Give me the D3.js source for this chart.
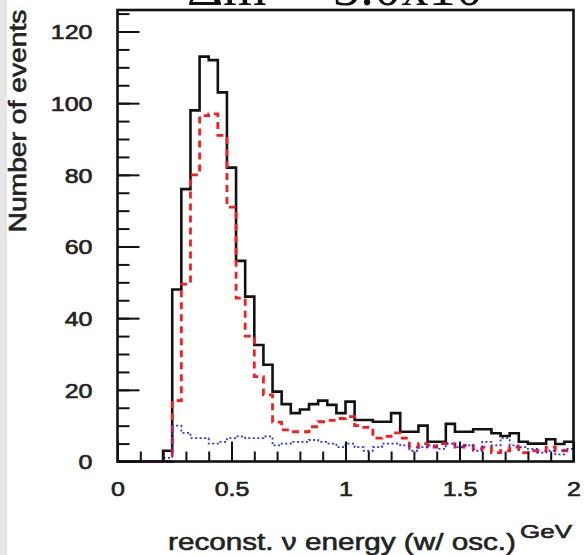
<!DOCTYPE html>
<html>
<head>
<meta charset="utf-8">
<script src="https://cdn.jsdelivr.net/npm/d3@7"></script>
<style>
  body { margin: 0; background: #fff; }
  svg { display: block; }
  text { font-family: "Liberation Sans", Arial, sans-serif; fill: #222; stroke: #222; stroke-width: 0.6px; }
</style>
</head>
<body>
<div id="chart"></div>
<script>
// histogram bins: 50 bins of 0.04 GeV between 0 and 2
var binWidth = 0.04;
var xTickLabels = ['0', '0.5', '1', '1.5', '2'];
var yTickLabels = ['0', '20', '40', '60', '80', '100', '120'];

// total (black, solid)
var totalCounts = [0, 0, 0, 0, 0, 3, 48, 76, 98, 113,
                   112, 103, 82, 56, 46, 32.5, 27, 19.5, 16, 13.5,
                   14.5, 16, 17, 15.8, 13.5, 16.7, 11.6, 11.6, 11.1, 11.1,
                   13.5, 8.3, 8.3, 10, 5.5, 5.5, 10.5, 8.3, 8.3, 9,
                   9, 7.9, 7.1, 7.9, 5.5, 5, 5, 6.2, 4.9, 5.5];
// signal (red, dashed)
var signalCounts = [0, 0, 0, 0, 0, 0, 17, 49.5, 80, 96.5,
                    97, 91, 71, 45.6, 35, 23.7, 18.6, 11, 8.8, 8.3,
                    8.3, 9.7, 11.1, 11.5, 12, 12.5, 10, 9.5, 6.5, 7,
                    8, 6.5, 4, 5, 4, 5, 5, 4, 4.5, 3.5,
                    4, 2.5, 3, 4, 2.5, 3, 3, 4, 3, 3];
// background (blue, dotted)
var backgroundCounts = [0, 0, 0, 0, 0, 1, 10, 8, 6.5, 6.5,
                        5, 5.5, 6.5, 7, 6.5, 6.5, 7, 4.5, 5, 5.5,
                        5.5, 6, 5.5, 5, 4, 5, 4, 3, 4, 5,
                        5, 4.5, 3, 4, 4.5, 3.5, 5, 4, 4.5, 3,
                        5.5, 4.5, 6.5, 4.5, 4, 3.5, 2.5, 3, 2, 3.5];

var width = 584, height = 555;
var frameLeft = 117.5, frameRight = 573.5, frameTop = 10, frameBottom = 461.5;

var svg = d3.select('#chart').append('svg')
    .attr('width', width)
    .attr('height', height);

// grey strip on the left edge of the scan
svg.append('rect').attr('x', 0).attr('y', 0).attr('width', 7).attr('height', height)
    .attr('fill', '#e6e6e6');

var x = d3.scaleLinear().domain([0, 2]).range([frameLeft, frameRight]);
var y = d3.scaleLinear().domain([0, 126]).range([frameBottom, frameTop]);

// title, mostly cut off at the top
svg.append('text').attr('x', 187).attr('y', 5)
    .style('font-family', '"Liberation Serif", serif').style('font-size', '56px')
    .style('fill', '#111').style('stroke', 'none')
    .text('\u0394m\u00b2 =');
svg.append('text').attr('x', 333).attr('y', 5)
    .attr('textLength', 185).attr('lengthAdjust', 'spacingAndGlyphs')
    .style('font-family', '"Liberation Serif", serif').style('font-size', '56px')
    .style('fill', '#111').style('stroke', 'none')
    .text('3.0x10\u207b\u00b3');

function stepPoints(counts) {
    var pts = counts.map(function (c, i) { return [i * binWidth, c]; });
    pts.push([counts.length * binWidth, counts[counts.length - 1]]);
    return pts;
}

var line = d3.line()
    .x(function (d) { return x(d[0]); })
    .y(function (d) { return y(d[1]); })
    .curve(d3.curveStepAfter);

var plot = svg.append('g');

plot.append('path').datum(stepPoints(totalCounts))
    .attr('d', line).attr('fill', 'none')
    .attr('stroke', '#111').attr('stroke-width', 2.6);

plot.append('path').datum(stepPoints(signalCounts))
    .attr('d', line).attr('fill', 'none')
    .attr('stroke', '#ff1a1a').attr('stroke-width', 2.8)
    .attr('stroke-dasharray', '7,5');

plot.append('path').datum(stepPoints(backgroundCounts))
    .attr('d', line).attr('fill', 'none')
    .attr('stroke', '#2b2bff').attr('stroke-width', 1.8)
    .attr('stroke-dasharray', '2,2.5');

// axes
var xMinor = d3.range(0, 2.0001, 0.1);
var yMinor = d3.range(0, 126, 5);

svg.append('g').attr('transform', 'translate(0,' + frameBottom + ')')
    .call(d3.axisBottom(x).tickValues(xMinor).tickSize(-10).tickFormat(''))
    .call(function (g) { g.select('.domain').remove(); g.selectAll('line').attr('stroke', '#111').attr('stroke-width', 2); });

svg.append('g').attr('transform', 'translate(0,' + frameBottom + ')')
    .call(d3.axisBottom(x).tickValues(xTickLabels.map(Number)).tickSize(-20).tickPadding(0)
        .tickFormat(function (d, i) { return xTickLabels[i]; }))
    .call(function (g) {
        g.select('.domain').remove();
        g.selectAll('line').attr('stroke', '#111').attr('stroke-width', 2);
        g.selectAll('text').attr('y', 0).attr('dy', null)
            .attr('transform', 'translate(0,34) scale(1.25,1)')
            .style('font-size', '20px').style('fill', '#222');
    });

svg.append('g').attr('transform', 'translate(' + frameLeft + ',0)')
    .call(d3.axisLeft(y).tickValues(yMinor).tickSize(-12).tickFormat(''))
    .call(function (g) { g.select('.domain').remove(); g.selectAll('line').attr('stroke', '#111').attr('stroke-width', 2); });

svg.append('g').attr('transform', 'translate(' + frameLeft + ',0)')
    .call(d3.axisLeft(y).tickValues(yTickLabels.map(Number)).tickSize(-22).tickPadding(0)
        .tickFormat(function (d, i) { return yTickLabels[i]; }))
    .call(function (g) {
        g.select('.domain').remove();
        g.selectAll('line').attr('stroke', '#111').attr('stroke-width', 2);
        g.selectAll('text').attr('x', 0).attr('dy', '0.36em')
            .attr('transform', 'translate(-25,0) scale(1.25,1)')
            .style('font-size', '20px').style('fill', '#222');
    });

// frame
svg.append('rect')
    .attr('x', frameLeft).attr('y', frameTop)
    .attr('width', frameRight - frameLeft).attr('height', frameBottom - frameTop)
    .attr('fill', 'none').attr('stroke', '#111').attr('stroke-width', 2.6);

// axis titles
svg.append('text')
    .attr('transform', 'translate(26,121) rotate(-90)')
    .attr('text-anchor', 'middle')
    .attr('textLength', 223).attr('lengthAdjust', 'spacingAndGlyphs')
    .style('font-size', '23px')
    .text('Number of events');

svg.append('text')
    .attr('x', 168).attr('y', 550)
    .attr('textLength', 348).attr('lengthAdjust', 'spacingAndGlyphs')
    .style('font-size', '24px')
    .text('reconst. \u03bd energy (w/ osc.)');

svg.append('text')
    .attr('x', 520).attr('y', 538)
    .attr('textLength', 52).attr('lengthAdjust', 'spacingAndGlyphs')
    .style('font-size', '19px')
    .text('GeV');
</script>
</body>
</html>
